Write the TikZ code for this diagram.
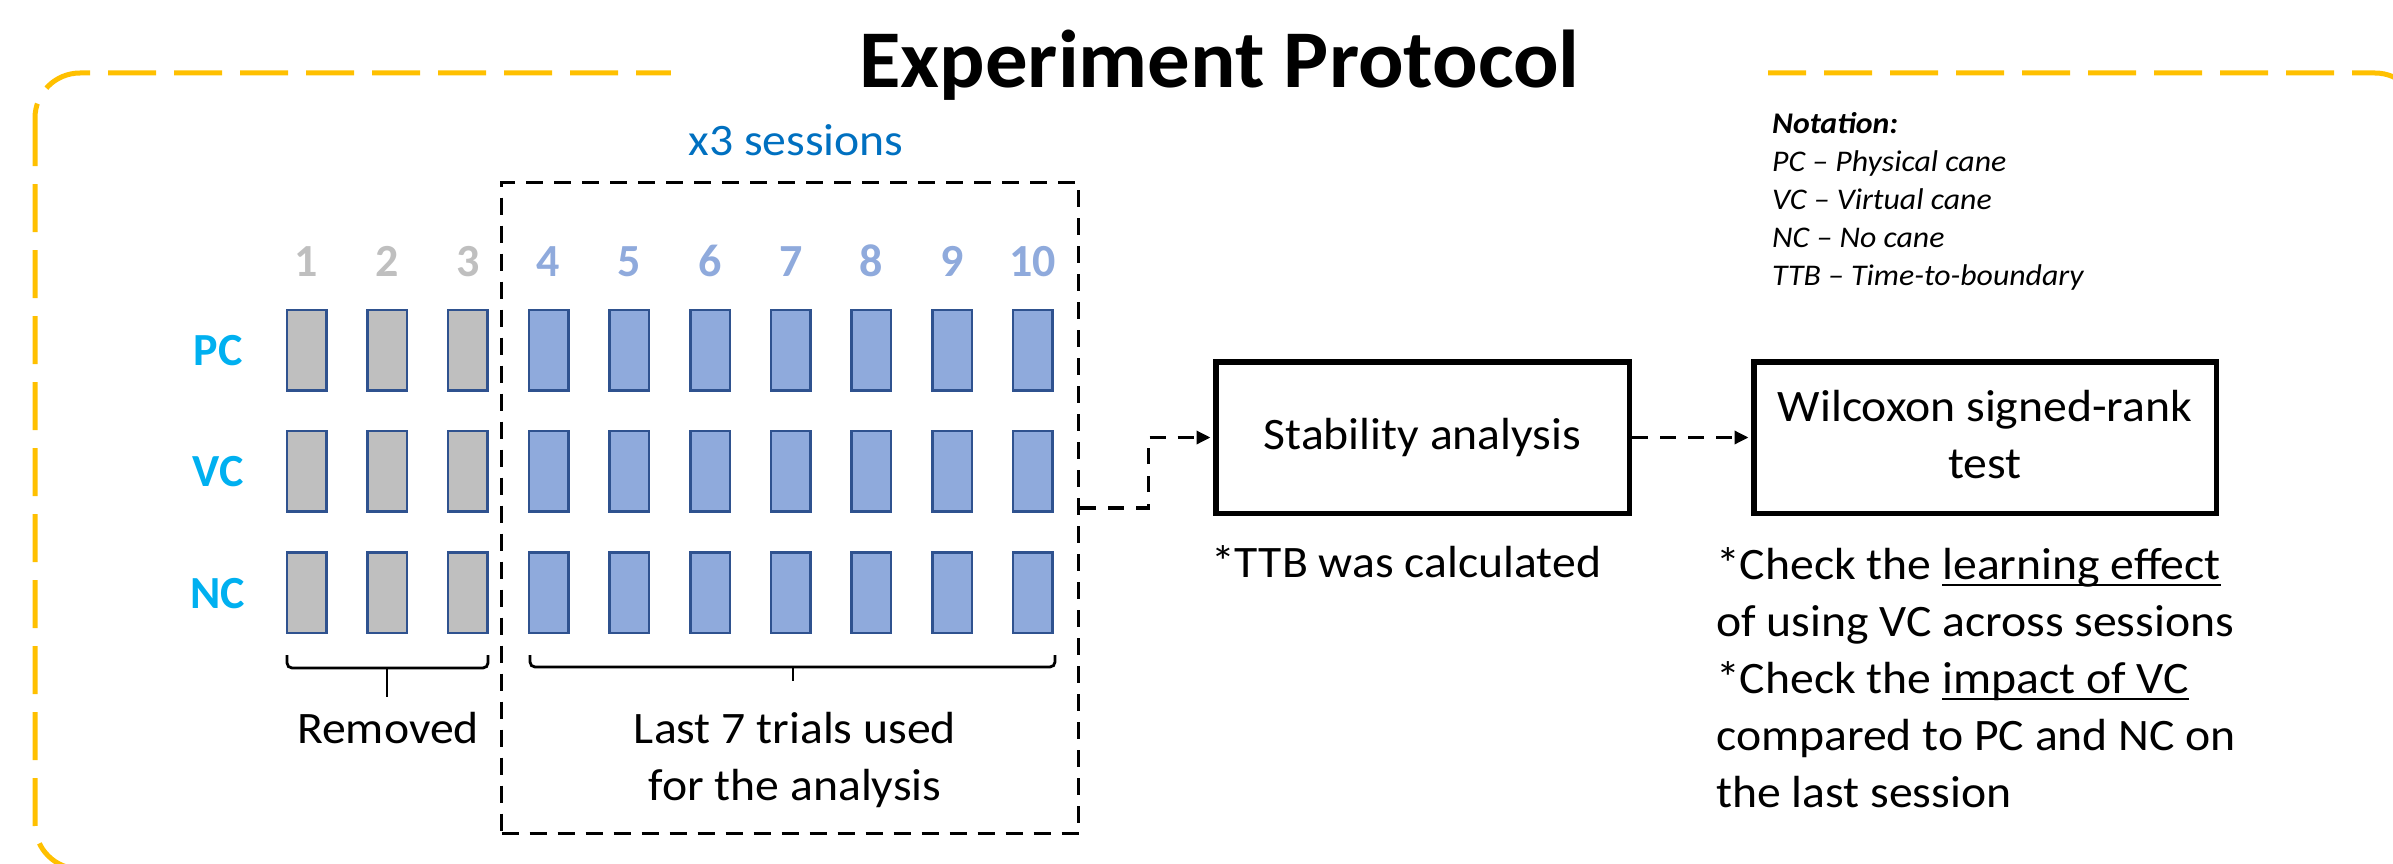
\documentclass[tikz,border=0pt]{standalone}
\usepackage{fontspec}
\setmainfont{Carlito}
\newfontfamily\widefont[FakeStretch=1.06]{Carlito}
\newfontfamily\titlefont[FakeStretch=1.035]{Carlito}
\usetikzlibrary{arrows.meta}
\definecolor{frameyellow}{HTML}{FFC000}
\definecolor{sessblue}{HTML}{0070C0}
\definecolor{condcyan}{HTML}{00B0F0}
\definecolor{trialgray}{HTML}{BFBFBF}
\definecolor{trialblue}{HTML}{8FAADC}
\definecolor{trialedge}{HTML}{2F528F}
% underline sitting just below the baseline
\newcommand\ulined[1]{\leavevmode\setbox0\hbox{#1}\rlap{\rule[-7pt]{\wd0}{2.2pt}}\box0}
\begin{document}
\begin{tikzpicture}[x=1pt,y=-1pt,
  frame/.style={draw=frameyellow, line width=5pt, dash pattern=on 48pt off 18pt, rounded corners=45pt},
  titletext/.style={font=\titlefont\bfseries\fontsize{82}{98}\selectfont, fill=white, minimum width=1097pt, inner sep=0pt},
  body/.style={font=\widefont\fontsize{45}{57}\selectfont, inner sep=0pt},
  digit/.style={font=\bfseries\fontsize{46}{55}\selectfont, inner sep=0pt},
  cond/.style={font=\bfseries\fontsize{46}{55}\selectfont, text=condcyan, inner sep=0pt},
  trial/.style={draw=trialedge, line width=2.5pt, minimum width=39.5pt, minimum height=80.5pt, inner sep=0pt},
  dashframe/.style={draw=black, line width=3.3pt, dash pattern=on 17pt off 11pt, inner sep=0pt},
  flow/.style={draw=black, line width=3.3pt, dash pattern=on 16pt off 12pt, -{Triangle[length=14pt,width=13pt]}, shorten >=2.5pt},
  bracepath/.style={draw=black, line width=2.8pt, rounded corners=5pt},
  stepbox/.style={draw=black, line width=5.5pt, inner sep=0pt, align=center, font=\widefont\fontsize{45}{56}\selectfont},
  note/.style={font=\widefont\itshape\fontsize{30}{38}\selectfont, align=left, inner sep=0pt}
]
\useasboundingbox (0,0) rectangle (2393,864);

% outer dashed frame, partly running off the page
\begin{scope}
  \clip (0,0) rectangle (2393,864);
  \draw[frame] (35,73) rectangle (2420,869);
\end{scope}

% title, its white backing breaks the frame
\node[titletext, anchor=base] (title) at (1219.5,88) {Experiment Protocol};

% repeated sessions
\node[dashframe, minimum width=577pt, minimum height=651pt] (sess) at (790,508) {};
\node[body, font=\widefont\fontsize{45}{54}\selectfont, text=sessblue, anchor=base] (x3) at (796,155) {x3 sessions};

% condition labels
\node[cond, anchor=base] (PC) at (218,365) {PC};
\node[cond, anchor=base] (VC) at (218,486) {VC};
\node[cond, anchor=base] (NC) at (218,608) {NC};

% removed warm-up trials
\foreach \i in {1,2,3} {
  \node[digit, text=trialgray, anchor=base] (n\i) at ({306.5+80.7*(\i-1)},276) {\i};
  \foreach \r/\ry in {PC/350,VC/471,NC/592.5}
    \node[trial, fill=trialgray] (t\r\i) at ({306.5+80.7*(\i-1)},\ry) {};
}
% trials kept for the analysis
\foreach \i in {4,...,10} {
  \node[digit, text=trialblue, anchor=base] (n\i) at ({306.5+80.7*(\i-1)},276) {\i};
  \foreach \r/\ry in {PC/350,VC/471,NC/592.5}
    \node[trial, fill=trialblue] (t\r\i) at ({306.5+80.7*(\i-1)},\ry) {};
}

% braces under the trial groups
\draw[bracepath] (287,655) |- (387,668) -| (488,655);
\draw[draw=black, line width=2.8pt] (387,668) -- (387,697);
\draw[bracepath] (530,655) |- (793,667) -| (1055,655);
\draw[draw=black, line width=2.8pt] (793,667) -- (793,681);

\node[body, anchor=base] (removed) at (388,743) {Removed};
% multi-line nodes: base anchor sits on the last line
\node[body, align=center, anchor=base] (kept) at (795,800) {Last 7 trials used\\for the analysis};

% analysis steps
\node[stepbox, minimum width=413.5pt, minimum height=151.5pt] (stab) at (1422.5,437.5) {Stability analysis};
\node[stepbox, minimum width=462.5pt, minimum height=151.5pt] (wil) at (1985,437.5) {};
\node[body, align=center, anchor=base] (wiltext) at (1985,478) {Wilcoxon signed-rank\\test};

\draw[flow] (sess.east) -- ++(68,0) |- (stab.west);
\draw[flow] (stab.east) -- (wil.west);

\node[body, anchor=base west] (ttb) at (1211,577) {*TTB was calculated};
\node[body, align=left, anchor=base west] (checks) at (1716,807)
  {*Check the \ulined{learning effect}\\of using VC across sessions\\*Check the \ulined{impact of VC}\\compared to PC and NC on\\the last session};

% notation legend
\node[note, anchor=base west] (legend) at (1772,285)
  {\textbf{Notation:}\\PC – Physical cane\\VC – Virtual cane\\NC – No cane\\TTB – Time-to-boundary};
\end{tikzpicture}
\end{document}
